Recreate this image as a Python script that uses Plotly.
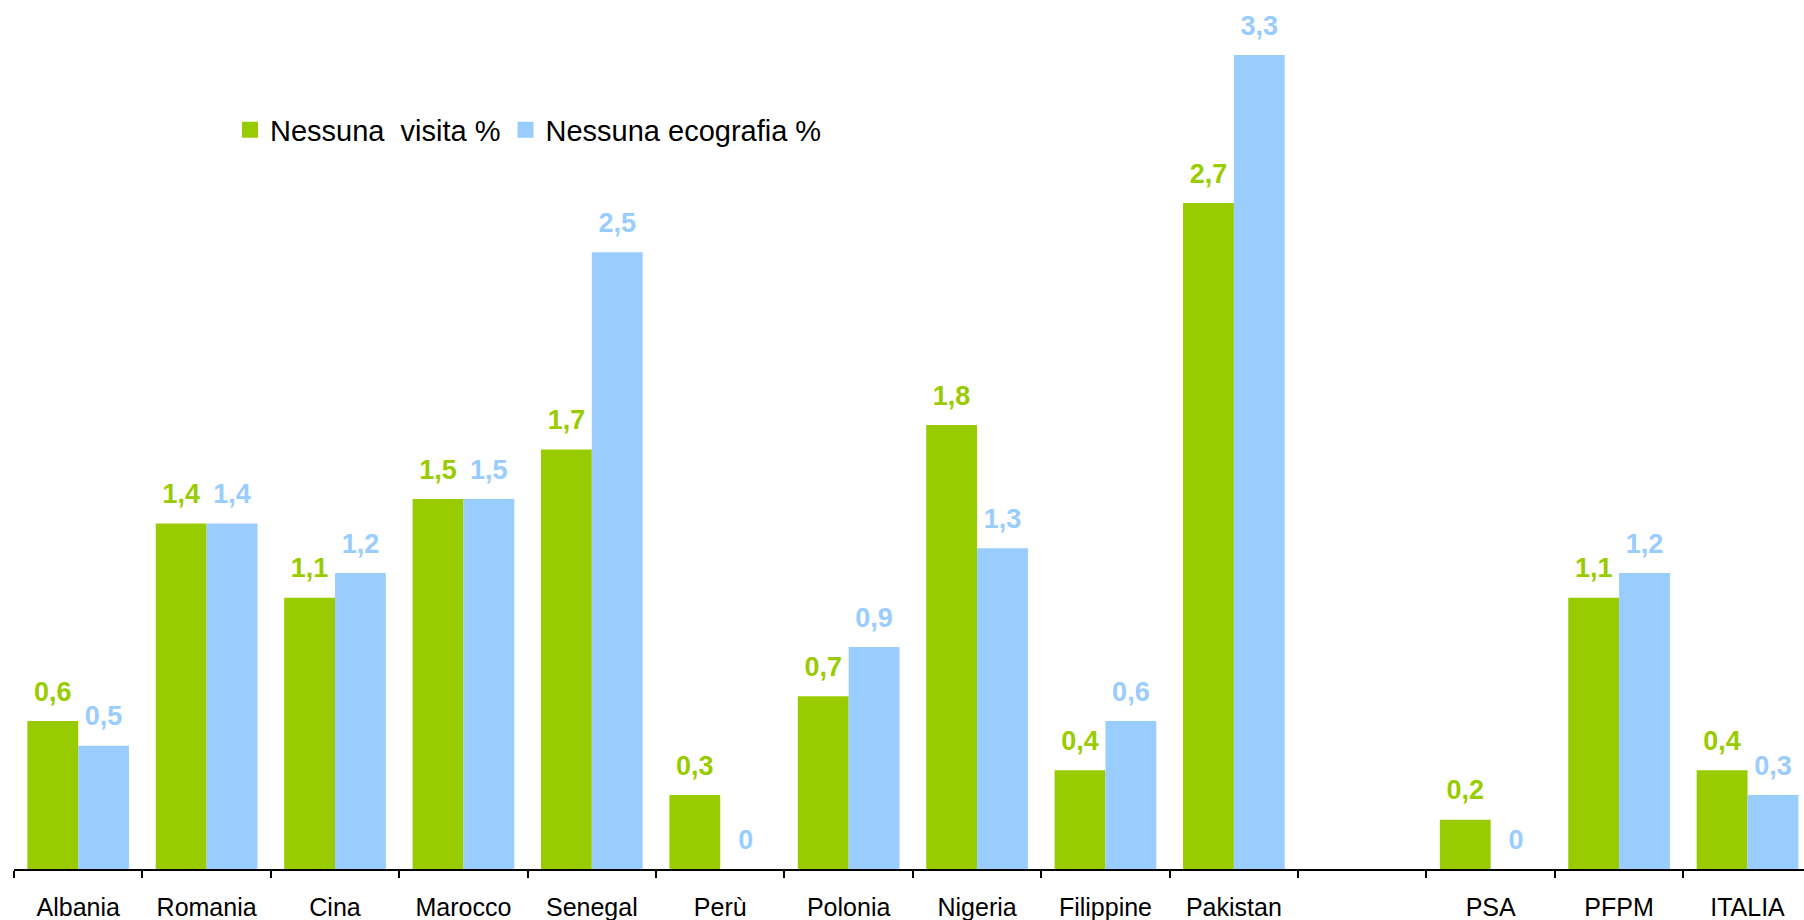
import plotly.graph_objects as go

categories = ["Albania", "Romania", "Cina", "Marocco", "Senegal", "Perù", "Polonia",
              "Nigeria", "Filippine", "Pakistan", " ", "PSA", "PFPM", "ITALIA"]
nessuna_visita = [0.6, 1.4, 1.1, 1.5, 1.7, 0.3, 0.7, 1.8, 0.4, 2.7, None, 0.2, 1.1, 0.4]
nessuna_ecografia = [0.5, 1.4, 1.2, 1.5, 2.5, 0, 0.9, 1.3, 0.6, 3.3, None, 0, 1.2, 0.3]
series_names = ["Nessuna  visita %", "Nessuna ecografia %"]

GREEN = "#99CC00"
BLUE = "#99CCFF"
FONT = "Arial, 'Liberation Sans', sans-serif"


def fmt(v):
    if v is None:
        return ""
    if v == 0:
        return "0"
    return f"{v:.1f}".replace(".", ",")


fig = go.Figure()

for vals, name, color, grp in [(nessuna_visita, series_names[0], GREEN, "g"),
                               (nessuna_ecografia, series_names[1], BLUE, "b")]:
    fig.add_trace(go.Bar(
        x=categories, y=vals, name=name, marker=dict(color=color, line=dict(width=0)),
        offsetgroup=grp, showlegend=False, hoverinfo="skip",
    ))

for vals, name, color, grp in [(nessuna_visita, series_names[0], GREEN, "g"),
                               (nessuna_ecografia, series_names[1], BLUE, "b")]:
    fig.add_trace(go.Scatter(
        x=categories, y=vals, mode="markers+text", text=[fmt(v) for v in vals],
        textposition="top center",
        textfont=dict(family=FONT, size=27, color=color, weight="bold"),
        marker=dict(size=20, opacity=0, color=color),
        offsetgroup=grp, showlegend=False, cliponaxis=False, hoverinfo="skip",
    ))

for name, color, grp in [(series_names[0], GREEN, "g"), (series_names[1], BLUE, "b")]:
    fig.add_trace(go.Scatter(
        x=[None], y=[None], mode="markers", name=name, offsetgroup=grp,
        marker=dict(symbol="square", size=21, color=color),
        showlegend=True, hoverinfo="skip",
    ))

ymax = 869 / 246.7

fig.update_layout(
    width=1804, height=920,
    margin=dict(l=14, r=0, t=0, b=51, autoexpand=False),
    paper_bgcolor="white", plot_bgcolor="white",
    barmode="group", bargap=0.208, bargroupgap=0,
    scattermode="group", scattergap=0.208,
    font=dict(family=FONT, color="black"),
    showlegend=True,
    legend=dict(
        orientation="h", x=(230 - 14) / 1790, xanchor="left",
        y=1 - 130 / 869, yanchor="middle",
        font=dict(family=FONT, size=29, color="black"),
        bgcolor="rgba(0,0,0,0)", itemclick=False, tracegroupgap=0,
    ),
    xaxis=dict(
        type="category", categoryorder="array", categoryarray=categories,
        range=[-0.5, 13.44], showgrid=False, zeroline=False, automargin=False,
        showline=True, linecolor="black", linewidth=2,
        ticks="outside", tickson="boundaries", ticklen=7, tickwidth=2, tickcolor="black",
        tickfont=dict(family=FONT, size=25, color="black"),
        ticklabelstandoff=15,
    ),
    yaxis=dict(
        range=[0, ymax], visible=False, showgrid=False, zeroline=False, automargin=False,
    ),
)

fig.write_html("out.html", config={"displayModeBar": False},
               post_script="document.body.style.margin='0px';")
